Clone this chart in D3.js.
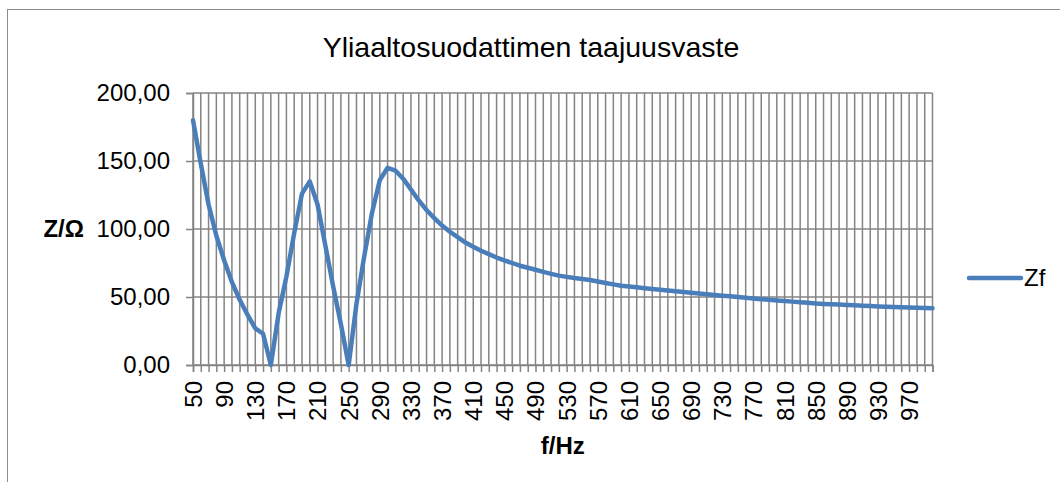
<!DOCTYPE html>
<html>
<head>
<meta charset="utf-8">
<script src="https://cdn.jsdelivr.net/npm/d3@7"></script>
<style>
  html, body { margin: 0; padding: 0; background: #fff; }
  svg { display: block; font-family: "Liberation Sans", Arial, sans-serif; }
</style>
</head>
<body>
<svg id="chart" width="1060" height="482"></svg>
<script>
// ---- data ----
const frequencies = [50,60,70,80,90,100,110,120,130,140,150,160,170,180,190,200,210,220,230,240,
  250,260,270,280,290,300,310,320,330,340,350,360,370,380,390,400,410,420,430,440,
  450,460,470,480,490,500,510,520,530,540,550,560,570,580,590,600,610,620,630,640,
  650,660,670,680,690,700,710,720,730,740,750,760,770,780,790,800,810,820,830,840,
  850,860,870,880,890,900,910,920,930,940,950,960,970,980,990,1000];
const zfValues = [180,148,118,95,77,61,48,37,27,23,0,38,65,97,126,135,118,88,58,30,
  0,45,80,112,136,145,143,137,129,121,114,108,102.5,98,94,90,87,84,81.5,79,
  77,75,73,71.5,70,68.5,67,65.7,64.8,63.9,63.2,62.5,61.4,60.3,59.3,58.3,57.7,57.1,56.5,55.9,
  55.3,54.7,54.2,53.7,53.1,52.6,52.0,51.5,51.0,50.5,50.0,49.5,48.9,48.3,47.9,47.5,47.0,46.6,46.2,45.7,
  45.3,44.9,44.6,44.4,44.1,43.9,43.6,43.4,43.1,42.9,42.7,42.5,42.3,42.1,41.9,41.8];
const yTicks = [0,50,100,150,200];
const labelEvery = 4;
const titleText = "Yliaaltosuodattimen taajuusvaste";
const xTitle = "f/Hz";
const yTitle = "Z/Ω";
const seriesName = "Zf";

// ---- layout ----
const svg = d3.select("#chart");
const L = 193, R = 932.5, T = 93, B = 365;
const gridColor = "#848484";
const lineColor = "#4a7ebb";

// outer border
svg.append("rect").attr("x", 7.5).attr("y", 9.5).attr("width", 1100).attr("height", 600)
  .attr("fill", "none").attr("stroke", "#8c8c8c").attr("stroke-width", 1);

const x = d3.scalePoint().domain(frequencies).range([L, R]);
const y = d3.scaleLinear().domain([0, 200]).range([B, T]);

// vertical gridlines
svg.append("g").selectAll("line").data(frequencies).join("line")
  .attr("x1", d => x(d)).attr("x2", d => x(d)).attr("y1", T).attr("y2", B)
  .attr("stroke", gridColor).attr("stroke-width", 1.5);

// horizontal gridlines
svg.append("g").selectAll("line").data(yTicks).join("line")
  .attr("x1", L).attr("x2", R).attr("y1", d => y(d)).attr("y2", d => y(d))
  .attr("stroke", gridColor).attr("stroke-width", 1.5);

// y axis
const yAxis = d3.axisLeft(y).tickValues(yTicks).tickSize(7).tickPadding(16)
  .tickFormat(d => d3.format(".2f")(d).replace(".", ","));
const gy = svg.append("g").attr("transform", `translate(${L},0)`).call(yAxis);
gy.select(".domain").attr("stroke", gridColor).attr("stroke-width", 1.5);
gy.selectAll(".tick line").attr("stroke", gridColor).attr("stroke-width", 1.5);
gy.selectAll(".tick text").attr("font-size", 24).attr("fill", "#000")
  .attr("font-family", "Liberation Sans, Arial, sans-serif");

// x axis
const xAxis = d3.axisBottom(x).tickSize(7).tickPadding(0)
  .tickFormat((d, i) => (i % labelEvery === 0 ? d : ""));
const gx = svg.append("g").attr("transform", `translate(0,${B})`).call(xAxis);
gx.select(".domain").attr("stroke", gridColor).attr("stroke-width", 1.5);
gx.selectAll(".tick line").attr("stroke", gridColor).attr("stroke-width", 1.5);
gx.selectAll(".tick text").attr("font-size", 24).attr("fill", "#000")
  .attr("font-family", "Liberation Sans, Arial, sans-serif")
  .attr("text-anchor", "end").attr("dy", "0.35em")
  .attr("transform", "translate(0,16) rotate(-90)")
  .attr("y", 0).attr("x", 0);

// series line
const line = d3.line().x((d, i) => x(frequencies[i])).y(d => y(d));
svg.append("path").datum(zfValues).attr("d", line)
  .attr("fill", "none").attr("stroke", lineColor).attr("stroke-width", 4.5)
  .attr("stroke-linejoin", "round").attr("stroke-linecap", "round");

// title
svg.append("text").attr("x", 531).attr("y", 57).attr("text-anchor", "middle")
  .attr("font-size", 28.5).attr("fill", "#000").text(titleText);

// axis titles
svg.append("text").attr("x", (L + R) / 2).attr("y", 454).attr("text-anchor", "middle")
  .attr("font-size", 24).attr("font-weight", "bold").attr("fill", "#000").text(xTitle);
svg.append("text").attr("x", 84).attr("y", y(100)).attr("dy", "0.35em").attr("text-anchor", "end")
  .attr("font-size", 24).attr("font-weight", "bold").attr("fill", "#000").text(yTitle);

// legend
const lg = svg.append("g");
lg.append("line").attr("x1", 969).attr("x2", 1021).attr("y1", 278).attr("y2", 278)
  .attr("stroke", lineColor).attr("stroke-width", 4.5).attr("stroke-linecap", "round");
lg.append("text").attr("x", 1024).attr("y", 278).attr("dy", "0.35em")
  .attr("font-size", 24).attr("fill", "#000").text(seriesName);
</script>
</body>
</html>
